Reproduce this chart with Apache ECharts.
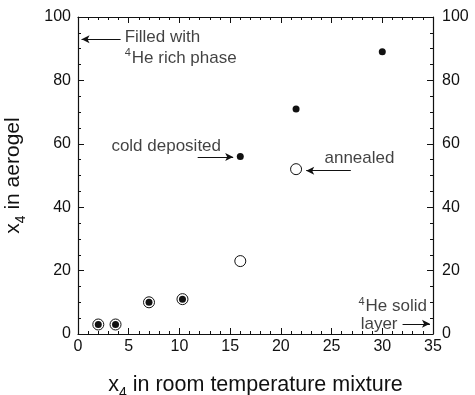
<!DOCTYPE html>
<html>
<head>
<meta charset="utf-8">
<script src="https://cdn.jsdelivr.net/npm/echarts@6/dist/echarts.min.js"></script>
<style>
  html, body { margin: 0; padding: 0; background: #fff; }
  #chart { width: 475px; height: 395px; }
</style>
</head>
<body>
<div id="chart"></div>
<script>
// x4 in room temperature mixture vs x4 in aerogel
const coldDeposited = [[2.0, 3], [3.7, 3], [7.0, 10], [10.3, 11], [16.0, 56], [21.5, 71], [30.0, 89]];
const annealed = [[2.0, 3], [3.7, 3], [7.0, 10], [10.3, 11], [16.0, 23], [21.5, 52]];

// annotation arrows: [fromX, fromY, toX, toY]
const arrows = [
  [4.2, 93, 0.35, 93],
  [11.8, 55.8, 15.3, 55.8],
  [26.9, 51.5, 22.5, 51.5],
  [32.0, 3.2, 34.7, 3.2]
];
// annotation texts: [x, y, text, side]
const notes = [
  [4.6, 93.7, 'Filled with', 'right'],
  [4.6, 87.1, '{sup|4}{t|He rich phase}', 'right'],
  [14.1, 59.3, 'cold deposited', 'left'],
  [24.3, 55.5, 'annealed', 'right'],
  [34.4, 8.6, '{sup|4}{t|He solid}', 'left'],
  [31.5, 3.2, 'layer', 'left']
];

const font = 'Liberation Sans, Arial, Helvetica, sans-serif';
const ink = '#111';

const chart = echarts.init(document.getElementById('chart'), null, { renderer: 'canvas' });

const axisLine = { show: true, onZero: false, lineStyle: { color: ink, width: 1.2 } };
const axisTick = { show: true, inside: true, length: 6, lineStyle: { color: ink } };

const option = {
  backgroundColor: '#fff',
  animation: false,
  textStyle: { fontFamily: font },
  grid: { left: 78, right: 42, top: 17, bottom: 61, containLabel: false, outerBoundsMode: 'none' },
  xAxis: [
    {
      type: 'value', min: 0, max: 35, interval: 5, position: 'bottom',
      axisLine: axisLine, axisTick: axisTick, splitLine: { show: false },
      minorTick: { show: true, splitNumber: 5, length: 3, lineStyle: { color: ink } },
      axisLabel: { color: ink, fontSize: 16, margin: 5, fontFamily: font },
      name: '{n|x}{sub|4}{n| in room temperature mixture}',
      nameLocation: 'middle', nameGap: 37,
      nameTextStyle: {
        rich: {
          n: { fontSize: 21.5, color: ink, fontFamily: font },
          sub: { fontSize: 14, color: ink, fontFamily: font, padding: [15, 0, 0, 0] }
        }
      }
    },
    {
      type: 'value', min: 0, max: 35, interval: 5, position: 'top',
      axisLine: axisLine, axisTick: axisTick, splitLine: { show: false },
      minorTick: { show: true, splitNumber: 5, length: 3, lineStyle: { color: ink } },
      axisLabel: { show: false }
    }
  ],
  yAxis: [
    {
      type: 'value', min: 0, max: 100, interval: 20, position: 'left',
      axisLine: axisLine, axisTick: axisTick, splitLine: { show: false },
      minorTick: { show: true, splitNumber: 4, length: 3, lineStyle: { color: ink } },
      axisLabel: { color: ink, fontSize: 16, margin: 7, fontFamily: font },
      name: '{n|x}{sub|4}{n| in aerogel}',
      nameLocation: 'middle', nameGap: 50, nameRotate: 90,
      nameTextStyle: {
        rich: {
          n: { fontSize: 21, color: ink, fontFamily: font },
          sub: { fontSize: 14, color: ink, fontFamily: font, padding: [15, 0, 0, 0] }
        }
      }
    },
    {
      type: 'value', min: 0, max: 100, interval: 20, position: 'right',
      axisLine: axisLine, axisTick: axisTick, splitLine: { show: false },
      minorTick: { show: true, splitNumber: 4, length: 3, lineStyle: { color: ink } },
      axisLabel: { color: ink, fontSize: 16, margin: 9, fontFamily: font, padding: [4, 0, 0, 0] }
    }
  ],
  series: [
    {
      name: 'annealed',
      type: 'scatter',
      symbol: 'circle',
      symbolSize: 11,
      itemStyle: { color: '#fff', borderColor: ink, borderWidth: 1, opacity: 1 },
      data: annealed,
      z: 2
    },
    {
      name: 'cold deposited',
      type: 'scatter',
      symbol: 'circle',
      symbolSize: 7,
      itemStyle: { color: ink, opacity: 1 },
      data: coldDeposited,
      z: 3,
      markLine: {
        silent: true,
        symbol: ['none', 'arrow'],
        symbolSize: [6, 8],
        lineStyle: { color: ink, width: 1, type: 'solid' },
        label: { show: false },
        data: arrows.map(a => [{ coord: [a[0], a[1]] }, { coord: [a[2], a[3]] }])
      }
    },
    {
      name: 'notes',
      type: 'scatter',
      symbolSize: 0,
      silent: true,
      data: notes.map(n => ({
        value: [n[0], n[1]],
        label: {
          show: true,
          position: n[3],
          distance: 0,
          formatter: n[2],
          color: ink,
          fontSize: 17,
          fontFamily: font,
          textBorderWidth: 0,
          rich: {
            t: { fontSize: 17, color: ink, fontFamily: font },
            sup: { fontSize: 11, color: ink, fontFamily: font, padding: [0, 1, 10, 0] }
          }
        }
      })),
      z: 4
    }
  ]
};

chart.setOption(option);
</script>
</body>
</html>
